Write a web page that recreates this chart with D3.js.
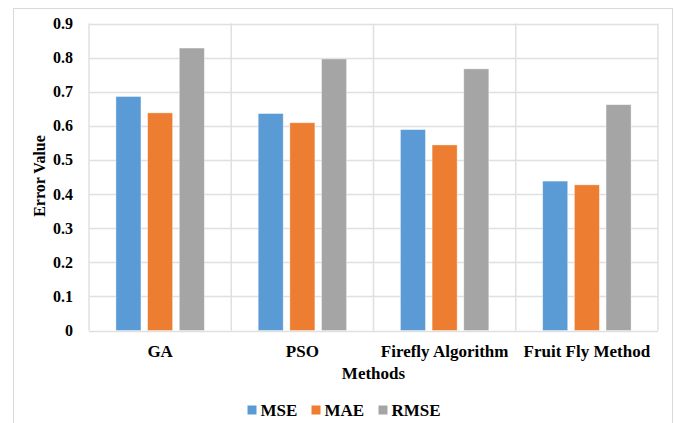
<!DOCTYPE html>
<html>
<head>
<meta charset="utf-8">
<script src="https://cdn.jsdelivr.net/npm/d3@7"></script>
<style>
  html, body { margin: 0; padding: 0; background: #fff; }
  svg { display: block; }
  text { font-family: "Liberation Serif", "Times New Roman", serif; font-weight: bold; fill: #000; }
</style>
</head>
<body>
<svg id="chart" width="675" height="423"></svg>
<script>
const categories = ["GA", "PSO", "Firefly Algorithm", "Fruit Fly Method"];
const seriesNames = ["MSE", "MAE", "RMSE"];
const mseValues = [0.686, 0.636, 0.589, 0.438];
const maeValues = [0.638, 0.609, 0.544, 0.427];
const rmseValues = [0.828, 0.796, 0.767, 0.662];
const yTicks = [0, 0.1, 0.2, 0.3, 0.4, 0.5, 0.6, 0.7, 0.8, 0.9];
const colors = ["#5B9BD5", "#ED7D31", "#A5A5A5"];

const seriesValues = [mseValues, maeValues, rmseValues];
const svg = d3.select("#chart");

// outer chart border
svg.append("rect").attr("x", 13.5).attr("y", 8.5).attr("width", 659).attr("height", 430)
  .attr("fill", "#fff").attr("stroke", "#d9d9d9").attr("stroke-width", 1);

const plotLeft = 89, plotRight = 658, plotTop = 23.5, plotBottom = 330.5;
const x0 = d3.scaleBand().domain(categories).range([plotLeft, plotRight]).paddingInner(0).paddingOuter(0);
const x1 = d3.scaleBand().domain(seriesNames).range([0, x0.bandwidth()]).paddingInner(0.21).paddingOuter(0.85);
const y = d3.scaleLinear().domain([0, 0.9]).range([plotBottom, plotTop]);

// horizontal gridlines
svg.append("g").selectAll("line").data(yTicks).join("line")
  .attr("x1", plotLeft).attr("x2", plotRight)
  .attr("y1", d => Math.round(y(d)) + 0.5).attr("y2", d => Math.round(y(d)) + 0.5)
  .attr("stroke", "#e0e0e0").attr("stroke-width", 1.5);

// vertical category separators
const seps = categories.map(c => x0(c)).concat([plotRight]);
svg.append("g").selectAll("line").data(seps).join("line")
  .attr("x1", d => d).attr("x2", d => d)
  .attr("y1", plotTop).attr("y2", plotBottom)
  .attr("stroke", "#e0e0e0").attr("stroke-width", 1.5);

// bars
const data = [];
categories.forEach((c, i) => seriesNames.forEach((s, j) => data.push({c, s, j, v: seriesValues[j][i]})));
svg.append("g").selectAll("rect").data(data).join("rect")
  .attr("x", d => x0(d.c) + x1(d.s))
  .attr("width", x1.bandwidth())
  .attr("y", d => y(d.v))
  .attr("height", d => y(0) - y(d.v))
  .attr("fill", d => colors[d.j])
  .attr("stroke", "#ffffff").attr("stroke-opacity", 0.5).attr("stroke-width", 0.75);

// y tick labels
svg.append("g").selectAll("text").data(yTicks).join("text")
  .attr("x", 73).attr("y", d => y(d))
  .attr("text-anchor", "end").attr("dominant-baseline", "central")
  .attr("font-size", 16)
  .text(d => d === 0 ? "0" : d3.format(".1f")(d));

// category labels
svg.append("g").selectAll("text").data(categories).join("text")
  .attr("x", d => x0(d) + x0.bandwidth() / 2).attr("y", 351)
  .attr("text-anchor", "middle").attr("dominant-baseline", "central")
  .attr("font-size", 17)
  .text(d => d);

// axis titles
svg.append("text").attr("x", (plotLeft + plotRight) / 2).attr("y", 373)
  .attr("text-anchor", "middle").attr("dominant-baseline", "central")
  .attr("font-size", 17).text("Methods");
svg.append("text").attr("transform", "translate(39,176) rotate(-90)")
  .attr("text-anchor", "middle").attr("dominant-baseline", "central")
  .attr("font-size", 16).text("Error Value");

// legend
const legendX = [247.5, 311.5, 378.5];
const lg = svg.append("g").selectAll("g").data(seriesNames).join("g")
  .attr("transform", (d, i) => `translate(${legendX[i]},410)`);
lg.append("rect").attr("x", 0).attr("y", -4.5).attr("width", 9).attr("height", 9)
  .attr("fill", (d, i) => colors[i]);
lg.append("text").attr("x", 13).attr("y", 0).attr("dominant-baseline", "central")
  .attr("font-size", 17).text(d => d);
</script>
</body>
</html>
